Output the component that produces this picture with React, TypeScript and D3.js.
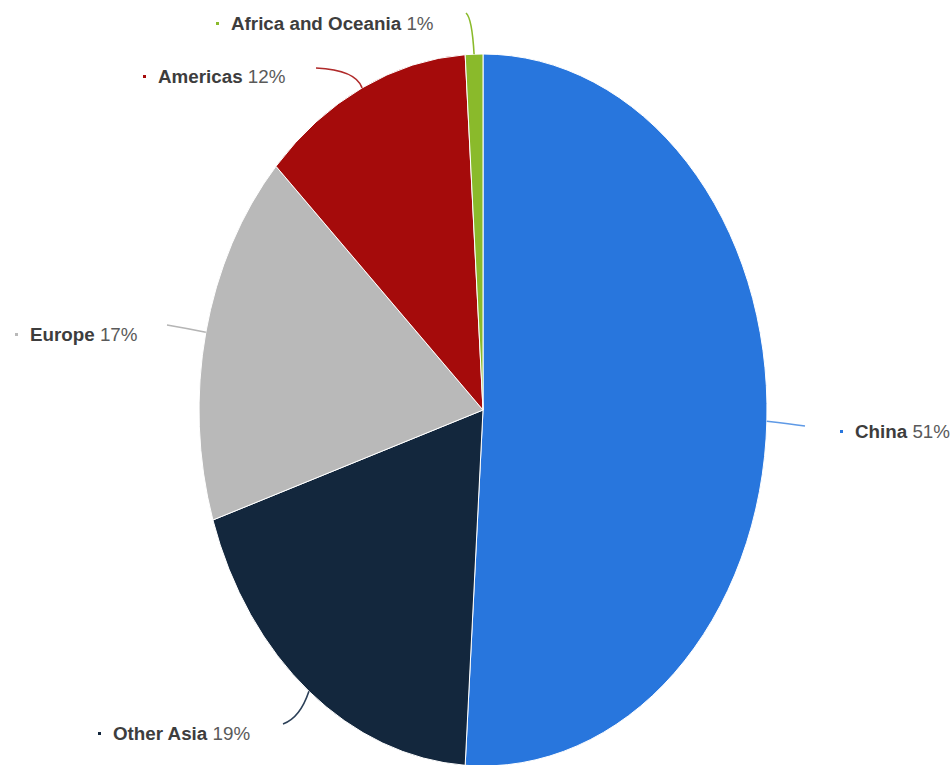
import React from "react";
import * as d3 from "d3";

const categories = ["China", "Other Asia", "Europe", "Americas", "Africa and Oceania"];
const shares = [51, 19, 17, 12, 1];
const colors = ["#2876dd", "#13273d", "#b9b9b9", "#a50b0b", "#8aba2b"];
const lineColors = ["#5f9ae6", "#2c4058", "#b5b5b5", "#b02a2a", "#8aba2b"];

// label layout: text start x, baseline y, connector end point and control point
const labelLayout = [
  { tx: 855, ty: 438, ex: 805, ey: 426, cx: 790, cy: 424 },
  { tx: 113, ty: 740, ex: 283, ey: 724, cx: 300, cy: 718 },
  { tx: 30, ty: 341, ex: 167, ey: 325, cx: 185, cy: 328 },
  { tx: 158, ty: 83, ex: 316, ey: 68, cx: 356, cy: 70 },
  { tx: 231, ty: 30, ex: 466, ey: 13, cx: 472, cy: 18 },
];

const W = 950;
const H = 765;
const CX = 483;
const CY = 410;
const RX = 284;
const RY = 356;

export default function App() {
  const pie = d3.pie<number>().sort(null).value((d) => d);
  const arcs = pie(shares);
  const arcGen = d3.arc<d3.PieArcDatum<number>>().innerRadius(0).outerRadius(RX);
  const sy = RY / RX;

  return (
    <svg
      width={W}
      height={H}
      style={{ position: "absolute", left: 0, top: 0, background: "#fff" }}
      fontFamily="'Liberation Sans', Arial, sans-serif"
    >
      <g transform={`translate(${CX},${CY}) scale(1,${sy})`}>
        {arcs.map((a, i) => (
          <path key={i} d={arcGen(a) || ""} fill={colors[i]} stroke="#fff" strokeWidth={1} vectorEffect="non-scaling-stroke" />
        ))}
      </g>
      {arcs.map((a, i) => {
        const mid = (a.startAngle + a.endAngle) / 2;
        const ax = CX + RX * Math.sin(mid);
        const ay = CY - RY * Math.cos(mid);
        const L = labelLayout[i];
        return (
          <g key={"l" + i}>
            <path
              d={`M${ax},${ay} Q${L.cx},${L.cy} ${L.ex},${L.ey}`}
              fill="none"
              stroke={lineColors[i]}
              strokeWidth={1.6}
            />
            <rect x={L.tx - 15} y={L.ty - 8} width={3} height={3} fill={colors[i]} />
            <text x={L.tx} y={L.ty} fontSize={18.8} fill="#3d3d3d">
              <tspan fontWeight="bold">{categories[i]}</tspan>
              <tspan fill="#5a5a5a"> {shares[i]}%</tspan>
            </text>
          </g>
        );
      })}
    </svg>
  );
}
